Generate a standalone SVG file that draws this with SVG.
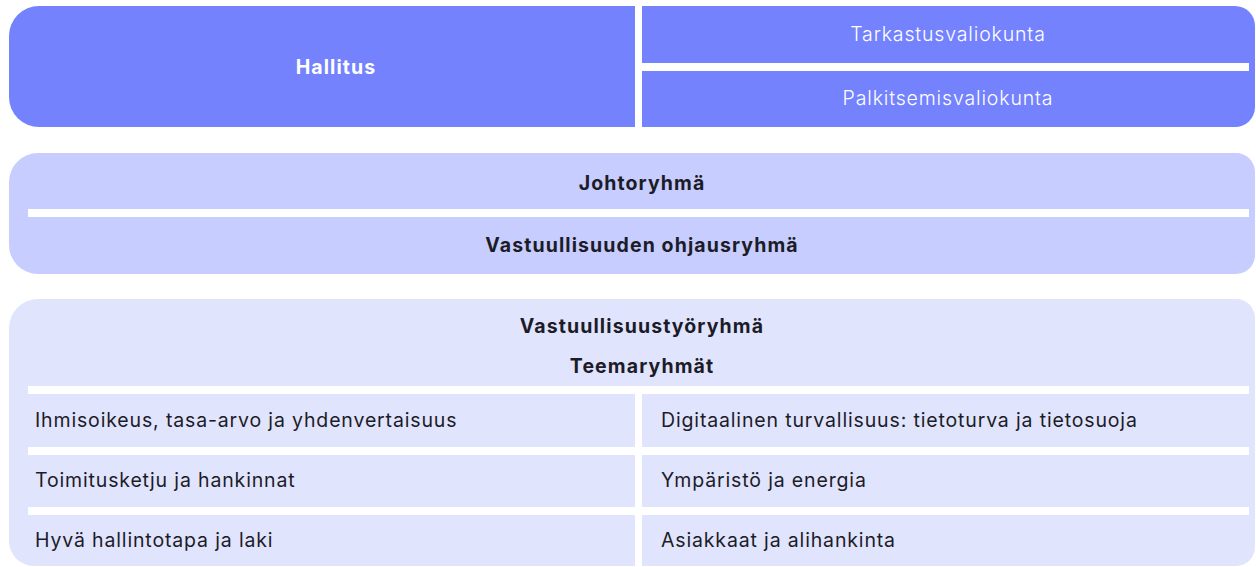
<svg xmlns="http://www.w3.org/2000/svg" width="1256" height="567" viewBox="0 0 1256 567">
<style>
.bg{fill:#ffffff}
.gap{fill:#ffffff}
.b1{fill:#7482fe}
.b2{fill:#c7cdfe}
.b3{fill:#e1e4fd}
text{font-family:Inter,"Noto Sans",sans-serif;font-size:19.5px;letter-spacing:0.85px}
.hb{font-weight:700;fill:#ffffff;text-anchor:middle;letter-spacing:1.1px}
.hl{font-weight:300;fill:#ffffff;text-anchor:middle}
.db{font-weight:700;fill:#1c1c28;text-anchor:middle;letter-spacing:1.1px}
.dr{font-weight:400;fill:#1c1c28}
</style>
<rect class="bg" x="0" y="0" width="1256" height="567"/>
<g id="hallitus-block">
<path class="b1" d="M39,6 H1235 A20,20 0 0 1 1255,26 V107 A20,20 0 0 1 1235,127 H39 A30,30 0 0 1 9,97 V36 A30,30 0 0 1 39,6 Z"/>
<rect class="gap" x="635" y="6" width="7" height="121"/>
<rect class="gap" x="642" y="63" width="607" height="8"/>
</g>
<g id="hallitus"><text class="hb" x="336" y="74">Hallitus</text></g>
<g id="tarkastusvaliokunta"><text class="hl" x="948" y="41">Tarkastusvaliokunta</text></g>
<g id="palkitsemisvaliokunta"><text class="hl" x="948" y="105">Palkitsemisvaliokunta</text></g>

<g id="johto-block">
<path class="b2" d="M38,153 H1236 A19,19 0 0 1 1255,172 V255 A19,19 0 0 1 1236,274 H38 A29,29 0 0 1 9,245 V182 A29,29 0 0 1 38,153 Z"/>
<rect class="gap" x="28" y="209" width="1221" height="8"/>
</g>
<g id="johtoryhma"><text class="db" x="642" y="190">Johtoryhmä</text></g>
<g id="ohjausryhma"><text class="db" x="642" y="252">Vastuullisuuden ohjausryhmä</text></g>

<g id="tyoryhma-block">
<path class="b3" d="M38,299 H1236 A19,19 0 0 1 1255,318 V547 A19,19 0 0 1 1236,566 H34 A25,25 0 0 1 9,541 V328 A29,29 0 0 1 38,299 Z"/>
<rect class="gap" x="28" y="386" width="1221" height="8"/>
<rect class="gap" x="28" y="447" width="1221" height="8"/>
<rect class="gap" x="28" y="507" width="1221" height="8"/>
<rect class="gap" x="635" y="394" width="7" height="173"/>
</g>
<g id="tyoryhma"><text class="db" x="642" y="333">Vastuullisuustyöryhmä</text></g>
<g id="teemaryhmat"><text class="db" x="642" y="373">Teemaryhmät</text></g>
<g id="t1"><text class="dr" x="35" y="427">Ihmisoikeus, tasa-arvo ja yhdenvertaisuus</text></g>
<g id="t2"><text class="dr" x="661" y="427">Digitaalinen turvallisuus: tietoturva ja tietosuoja</text></g>
<g id="t3"><text class="dr" x="35" y="487">Toimitusketju ja hankinnat</text></g>
<g id="t4"><text class="dr" x="661" y="487">Ympäristö ja energia</text></g>
<g id="t5"><text class="dr" x="35" y="547">Hyvä hallintotapa ja laki</text></g>
<g id="t6"><text class="dr" x="661" y="547">Asiakkaat ja alihankinta</text></g>
</svg>
